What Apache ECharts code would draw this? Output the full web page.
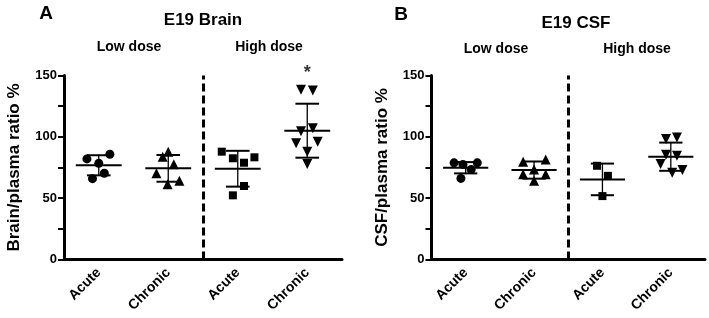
<!DOCTYPE html>
<html>
<head>
<meta charset="utf-8">
<script src="https://cdn.jsdelivr.net/npm/echarts@6/dist/echarts.min.js"></script>
<style>
  html, body { margin: 0; padding: 0; background: #fff; }
  #chart { width: 709px; height: 318px; }
</style>
</head>
<body>
<div id="chart"></div>
<script>
const categories = ["Acute", "Chronic", "Acute", "Chronic"];
const yTickStep = 25;
const yLabelStep = 50;

// Panel A - E19 Brain (brain/plasma ratio %)
const brainLowAcute = [85.8, 82.0, 78.4, 65.9, 70.3];
const brainLowChronic = [87.9, 83.8, 77.6, 70.3, 61.3, 64.2];
const brainHighAcute = [87.9, 82.5, 78.9, 83.3, 59.9, 52.3];
const brainHighChronic = [138.3, 137.8, 104.5, 106.9, 94.7, 96.0, 87.9, 77.9];
const brainMean = [76.8, 74.3, 74.0, 105.0];
const brainSD = [8.2, 10.9, 14.6, 22.0];

// Panel B - E19 CSF (CSF/plasma ratio %)
const csfLowAcute = [78.8, 78.8, 77.5, 73.4, 66.1];
const csfLowChronic = [79.6, 81.6, 69.4, 69.4, 73.4, 64.2];
const csfHighAcute = [76.4, 68.2, 51.7];
const csfHighChronic = [98.2, 99.5, 85.4, 84.5, 77.8, 72.9, 70.7];
const csfMean = [74.8, 72.9, 65.3, 83.8];
const csfSD = [4.6, 7.0, 12.9, 11.5];

// horizontal spread of the points inside each group (in category widths)
const brainLowAcuteJitter = [0.16, -0.17, 0, -0.09, 0.08];
const brainLowChronicJitter = [0, -0.08, 0.08, -0.17, -0.01, 0.16];
const brainHighAcuteJitter = [-0.23, -0.07, 0.09, 0.24, 0.09, -0.07];
const brainHighChronicJitter = [-0.09, 0.08, -0.09, 0.08, -0.16, 0.15, 0, 0];
const csfLowAcuteJitter = [-0.17, 0.17, -0.04, 0.08, -0.07];
const csfLowChronicJitter = [-0.16, 0.17, -0.16, 0.17, 0, 0];
const csfHighAcuteJitter = [-0.08, 0.08, 0];
const csfHighChronicJitter = [-0.07, 0.09, -0.07, 0.09, -0.15, 0.17, 0.02];

const brainStar = [3.5, 152];

const FONT = "'Liberation Sans', Arial, sans-serif";

function points(values, jitter, groupIndex) {
  return values.map((v, i) => [groupIndex + 0.5 + jitter[i], v]);
}

function meanSdItem(params, api) {
  const x = api.value(0);
  const m = api.value(1);
  const s = api.value(2);
  const c = api.coord([x, m]);
  const top = api.coord([x, m + s]);
  const bot = api.coord([x, m - s]);
  const halfMean = api.size([0.33, 0])[0];
  const halfCap = api.size([0.17, 0])[0];
  const thick = { stroke: "#000", lineWidth: 2 };
  return {
    type: "group",
    children: [
      { type: "line", shape: { x1: c[0] - halfMean, y1: c[1], x2: c[0] + halfMean, y2: c[1] }, style: thick },
      { type: "line", shape: { x1: c[0], y1: top[1], x2: c[0], y2: bot[1] }, style: { stroke: "#000", lineWidth: 1.3 } },
      { type: "line", shape: { x1: c[0] - halfCap, y1: top[1], x2: c[0] + halfCap, y2: top[1] }, style: thick },
      { type: "line", shape: { x1: c[0] - halfCap, y1: bot[1], x2: c[0] + halfCap, y2: bot[1] }, style: thick },
    ],
  };
}

function catAxis(gridIndex) {
  return {
    type: "category",
    gridIndex,
    data: categories,
    boundaryGap: true,
    axisLine: { lineStyle: { color: "#000", width: 3 } },
    axisTick: { alignWithLabel: true, length: 6, lineStyle: { color: "#000", width: 2 } },
    axisLabel: { rotate: 45, margin: 11, color: "#000", fontFamily: FONT, fontWeight: "bold", fontSize: 14 },
  };
}

function valueXAxis(gridIndex) {
  return { type: "value", gridIndex, min: 0, max: 4, show: false };
}

function yAxis(gridIndex, name) {
  return {
    type: "value",
    gridIndex,
    min: 0,
    max: 150,
    interval: yTickStep,
    name,
    nameLocation: "middle",
    nameGap: 41,
    nameTextStyle: { color: "#000", fontFamily: FONT, fontWeight: "bold", fontSize: 17 },
    splitLine: { show: false },
    axisLine: { show: true, lineStyle: { color: "#000", width: 3 } },
    axisTick: { show: true, length: 6, lineStyle: { color: "#000", width: 2 } },
    axisLabel: {
      margin: 7,
      color: "#000",
      fontFamily: FONT,
      fontWeight: "bold",
      fontSize: 13,
      formatter: (v) => (v % yLabelStep === 0 ? String(v) : ""),
    },
  };
}

function groupSeries(xAxisIndex, yAxisIndex, data, symbol, size, rotate) {
  return {
    type: "scatter",
    xAxisIndex,
    yAxisIndex,
    data,
    symbol,
    symbolSize: size,
    symbolRotate: rotate || 0,
    itemStyle: { color: "#000", opacity: 1 },
    z: 3,
  };
}

function dividerSeries(xAxisIndex, yAxisIndex) {
  return {
    type: "scatter",
    xAxisIndex,
    yAxisIndex,
    data: [],
    markLine: {
      silent: true,
      symbol: "none",
      label: { show: false },
      lineStyle: { color: "#000", width: 3, type: [8, 4] },
      data: [{ xAxis: 2 }],
    },
  };
}

function meanSdSeries(xAxisIndex, yAxisIndex, means, sds) {
  return {
    type: "custom",
    xAxisIndex,
    yAxisIndex,
    renderItem: meanSdItem,
    data: means.map((m, i) => [i + 0.5, m, sds[i]]),
    z: 2,
  };
}

function text(str, x, y, size) {
  return {
    type: "text",
    x,
    y,
    style: {
      text: str,
      fill: "#000",
      font: `bold ${size}px ${FONT}`,
      textAlign: "center",
      textVerticalAlign: "middle",
    },
  };
}

const chart = echarts.init(document.getElementById("chart"));

chart.setOption({
  animation: false,
  backgroundColor: "#fff",
  grid: [
    { left: 64, right: 367, top: 75.5, bottom: 58.5 },
    { left: 431.5, right: 4, top: 75.5, bottom: 58.5 },
  ],
  xAxis: [catAxis(0), valueXAxis(0), catAxis(1), valueXAxis(1)],
  yAxis: [yAxis(0, "Brain/plasma ratio %"), yAxis(1, "CSF/plasma ratio %")],
  graphic: [
    text("A", 46, 14, 19),
    text("E19 Brain", 203, 20, 17),
    text("Low dose", 129, 47, 14),
    text("High dose", 269, 47, 14),
    text("B", 401, 15, 19),
    text("E19 CSF", 576, 23, 17),
    text("Low dose", 496, 49, 14),
    text("High dose", 637, 49, 14),
  ],
  series: [
    dividerSeries(1, 0),
    meanSdSeries(1, 0, brainMean, brainSD),
    groupSeries(1, 0, points(brainLowAcute, brainLowAcuteJitter, 0), "circle", 9),
    groupSeries(1, 0, points(brainLowChronic, brainLowChronicJitter, 1), "triangle", 10),
    groupSeries(1, 0, points(brainHighAcute, brainHighAcuteJitter, 2), "rect", 8),
    groupSeries(1, 0, points(brainHighChronic, brainHighChronicJitter, 3), "triangle", 10, 180),
    {
      type: "scatter",
      xAxisIndex: 1,
      yAxisIndex: 0,
      clip: false,
      data: [brainStar],
      symbolSize: 1,
      itemStyle: { color: "rgba(0,0,0,0)" },
      label: {
        show: true,
        position: "inside",
        formatter: "*",
        color: "#000",
        fontFamily: FONT,
        fontWeight: "bold",
        fontSize: 18,
      },
    },
    dividerSeries(3, 1),
    meanSdSeries(3, 1, csfMean, csfSD),
    groupSeries(3, 1, points(csfLowAcute, csfLowAcuteJitter, 0), "circle", 9),
    groupSeries(3, 1, points(csfLowChronic, csfLowChronicJitter, 1), "triangle", 10),
    groupSeries(3, 1, points(csfHighAcute, csfHighAcuteJitter, 2), "rect", 8),
    groupSeries(3, 1, points(csfHighChronic, csfHighChronicJitter, 3), "triangle", 10, 180),
  ],
});
</script>
</body>
</html>
